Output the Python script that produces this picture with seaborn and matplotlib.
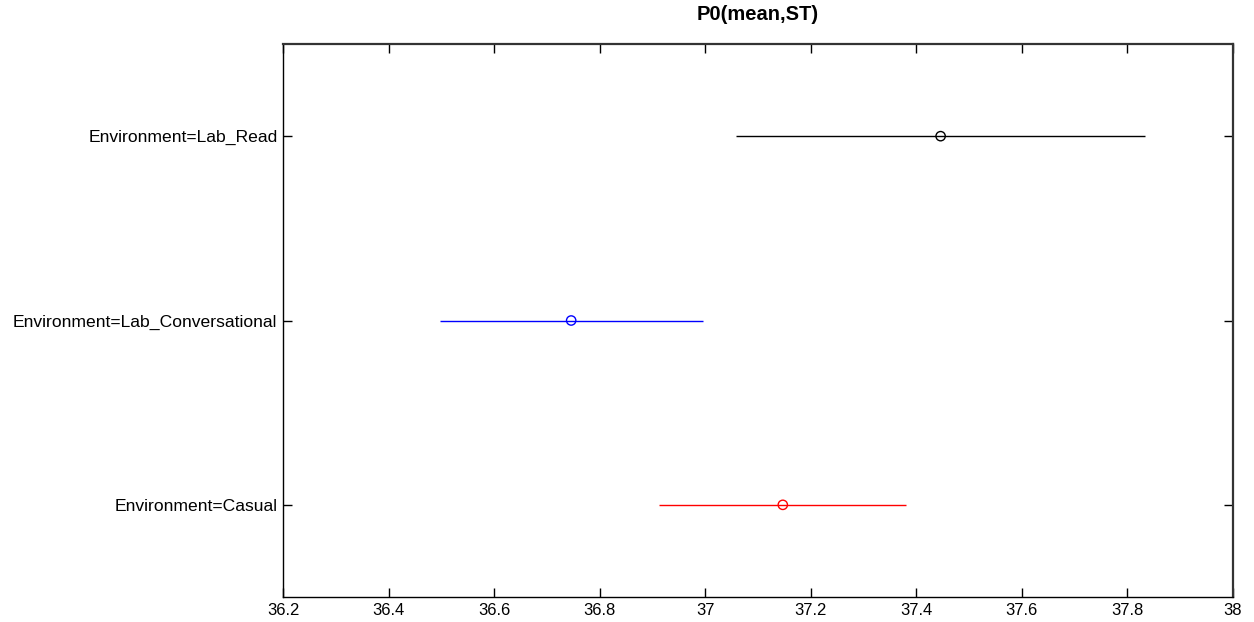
import matplotlib
matplotlib.use("Agg")
import matplotlib.pyplot as plt
import seaborn as sns
import pandas as pd

# Group estimates with their comparison intervals
groups = ["Environment=Lab_Read", "Environment=Lab_Conversational", "Environment=Casual"]
means = [37.446, 36.746, 37.147]
lower = [37.058, 36.497, 36.912]
upper = [37.833, 36.996, 37.381]
colors = ["black", "blue", "red"]
xticks = [36.2, 36.4, 36.6, 36.8, 37.0, 37.2, 37.4, 37.6, 37.8, 38.0]
xtick_labels = ["36.2", "36.4", "36.6", "36.8", "37", "37.2", "37.4", "37.6", "37.8", "38"]

sns.set_style("ticks")
plt.rcParams["font.family"] = ["Liberation Sans", "DejaVu Sans"]

df = pd.DataFrame({"group": groups, "mean": means, "lower": lower, "upper": upper,
                   "pos": range(len(groups))})

fig = plt.figure(figsize=(12.54, 6.22), dpi=100)
ax = fig.add_axes([283 / 1254, 1 - 597 / 622, 950 / 1254, 553 / 622])

ax.hlines(df["pos"], df["lower"], df["upper"], colors=colors, linewidth=1.0, zorder=2)
sns.scatterplot(data=df, x="mean", y="pos", hue="group", palette=colors,
                marker="o", s=45, linewidth=1.0, legend=False, ax=ax, zorder=3)
# open circles: color the edges by group
ax.collections[-1].set_facecolor("none")
ax.collections[-1].set_edgecolor(colors)

ax.set_xlim(36.2, 38.0)
ax.set_ylim(len(groups) - 0.5, -0.5)
ax.set_xticks(xticks)
ax.set_xticklabels(xtick_labels)
ax.set_yticks(df["pos"])
ax.set_yticklabels(groups)
ax.set_xlabel("")
ax.set_ylabel("")
ax.tick_params(direction="in", length=6.5, width=1, colors="black",
               top=True, right=True, pad=4)
ax.tick_params(axis="x", labelsize=12)
ax.tick_params(axis="y", labelsize=12.6)
for side, sp in ax.spines.items():
    sp.set_visible(True)
    sp.set_color("black" if side in ("left", "bottom") else "#333333")
    sp.set_linewidth(1.0 if side in ("left", "bottom") else 1.6)

ax.set_title("P0(mean,ST)", fontsize=14.5, fontweight="bold", color="black", pad=17)

fig.savefig("out.png", dpi=100)
